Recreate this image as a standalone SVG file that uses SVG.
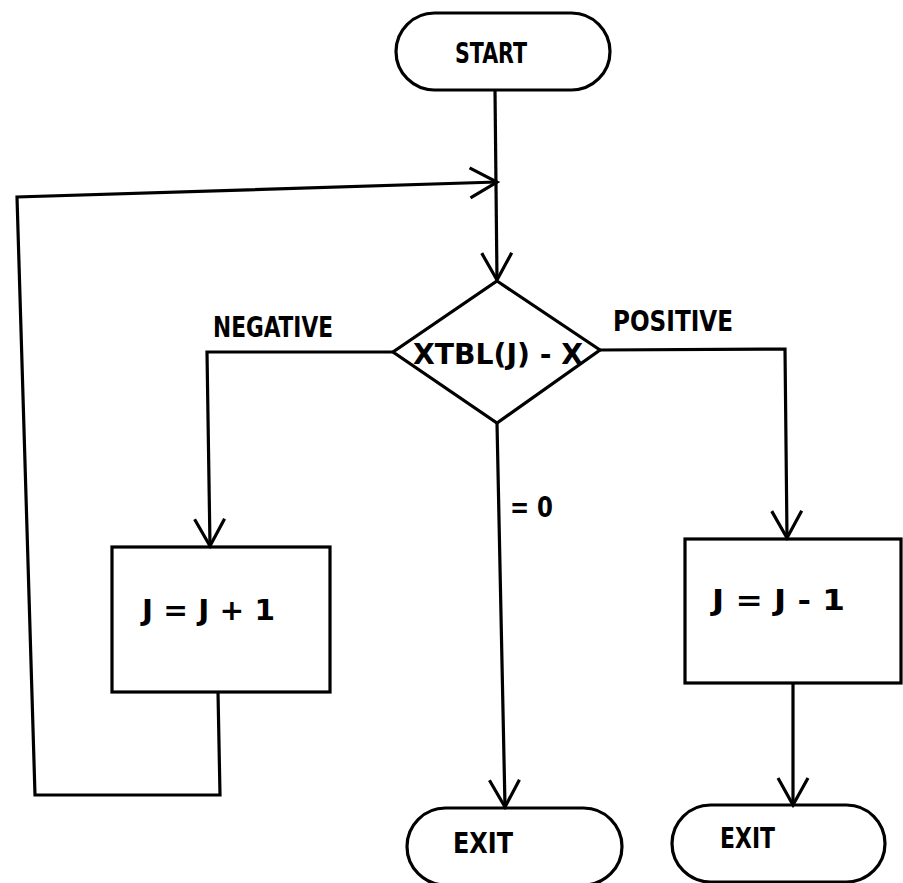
<svg xmlns="http://www.w3.org/2000/svg" width="903" height="883" viewBox="0 0 903 883">
  <style>
    .shape { fill: none; stroke: #000; stroke-width: 3.2; stroke-linejoin: miter; }
    .wire { fill: none; stroke: #000; stroke-width: 3.2; }
    .lbl { font-family: "DejaVu Sans Condensed", "DejaVu Sans", sans-serif; font-weight: bold; font-size: 29px; fill: #000; }
  </style>
  <defs>
    <marker id="arrow" markerUnits="userSpaceOnUse" markerWidth="40" markerHeight="40" viewBox="-32 -20 40 40" refX="0" refY="0" orient="auto">
      <path d="M-27,-15 L0,0 L-27,15" fill="none" stroke="#000" stroke-width="3.2"/>
    </marker>
  </defs>

  <rect width="903" height="883" fill="#fff"/>

  <g id="connectors">
    <path class="wire" d="M495,90 L497,280" marker-end="url(#arrow)"/>
    <path class="wire" d="M218,692 L220,795 L35,795 L17,197 L497,182" marker-end="url(#arrow)"/>
    <path class="wire" d="M393,352 L207,352 L210,546" marker-end="url(#arrow)"/>
    <path class="wire" d="M600,350 L785,349 L787,538" marker-end="url(#arrow)"/>
    <path class="wire" d="M793,683 L793,805" marker-end="url(#arrow)"/>
    <path class="wire" d="M497,423 L505,807" marker-end="url(#arrow)"/>
    <text class="lbl" x="213" y="337" textLength="120" lengthAdjust="spacingAndGlyphs">NEGATIVE</text>
    <text class="lbl" x="613" y="331" textLength="120" lengthAdjust="spacingAndGlyphs">POSITIVE</text>
    <text class="lbl" x="510" y="517" textLength="43" lengthAdjust="spacingAndGlyphs">= 0</text>
  </g>

  <g id="start">
    <rect class="shape" x="396" y="13" width="214" height="77" rx="38.5"/>
    <text class="lbl" x="455" y="63" textLength="72" lengthAdjust="spacingAndGlyphs">START</text>
  </g>

  <g id="decision">
    <polygon class="shape" points="497,281 600,350 497,423 393,352"/>
    <text class="lbl" x="413" y="364" textLength="170" lengthAdjust="spacingAndGlyphs">XTBL(J) - X</text>
  </g>

  <g id="increment">
    <rect class="shape" x="112" y="547" width="218" height="145"/>
    <text class="lbl" x="142" y="620" textLength="133" lengthAdjust="spacingAndGlyphs">J = J + 1</text>
  </g>

  <g id="decrement">
    <rect class="shape" x="685" y="539" width="216" height="144"/>
    <text class="lbl" x="712" y="610" textLength="133" lengthAdjust="spacingAndGlyphs">J = J - 1</text>
  </g>

  <g id="exit-found">
    <rect class="shape" x="407" y="808" width="215" height="77" rx="38.5"/>
    <text class="lbl" x="453" y="853" textLength="60" lengthAdjust="spacingAndGlyphs">EXIT</text>
  </g>

  <g id="exit-positive">
    <rect class="shape" x="672" y="805" width="213" height="77" rx="38.5"/>
    <text class="lbl" x="720" y="848" textLength="55" lengthAdjust="spacingAndGlyphs">EXIT</text>
  </g>
</svg>
